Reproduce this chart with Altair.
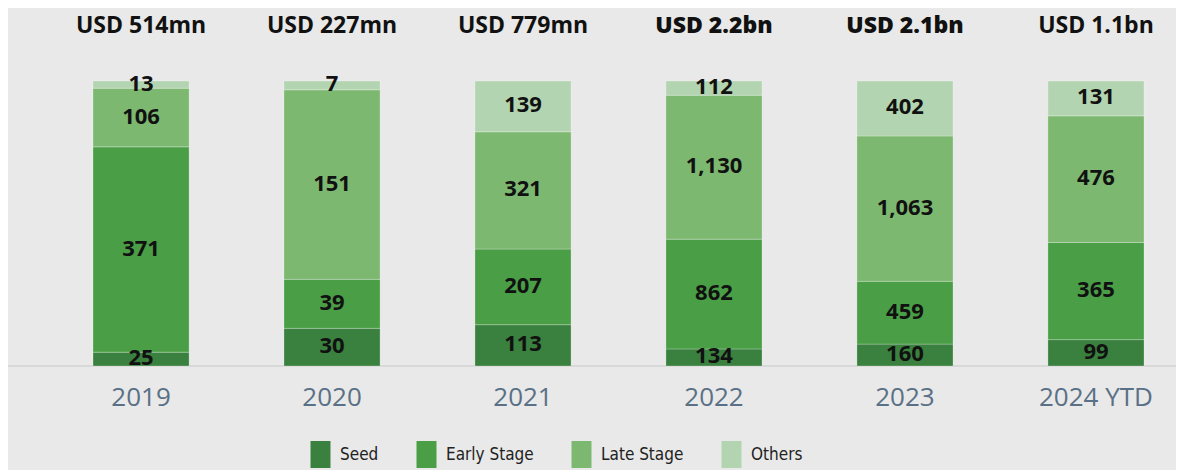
import altair as alt
import pandas as pd

years = ["2019", "2020", "2021", "2022", "2023", "2024 YTD"]
stages = ["Seed", "Early Stage", "Late Stage", "Others"]
seed = [25, 30, 113, 134, 160, 99]
early = [371, 39, 207, 862, 459, 365]
late = [106, 151, 321, 1130, 1063, 476]
others = [13, 7, 139, 112, 402, 131]
totals = ["USD 514mn", "USD 227mn", "USD 779mn", "USD 2.2bn", "USD 2.1bn", "USD 1.1bn"]
bold_years = ["2022", "2023"]

colors = ["#3a803e", "#4a9e46", "#7db870", "#b3d4b0"]

rows = []
for i, y in enumerate(years):
    for j, (s, vals) in enumerate(zip(stages, [seed, early, late, others])):
        rows.append({"year": y, "stage": s, "value": vals[i], "order": j})
df = pd.DataFrame(rows)
tot = pd.DataFrame({"year": years, "label": totals})

FONT = "Open Sans"

x_enc = alt.X("year:N", sort=years, title=None,
              scale=alt.Scale(range=[85, 1136], paddingInner=0.497, paddingOuter=0),
              axis=alt.Axis(domain=False, ticks=False, tickSize=0, labelPadding=18,
                            labelFontSize=26, labelColor="#5a7086", labelFont=FONT,
                            labelAngle=0, grid=False))
y_scale = alt.Scale(domain=[0, 1], range=[358, 73], nice=False, zero=False)

base = alt.Chart(df).transform_stack(
    stack="value", groupby=["year"], as_=["y0", "y1"], offset="normalize",
    sort=[alt.SortField("order", order="ascending")]
).transform_calculate(mid="(datum.y0 + datum.y1) / 2")

bars = base.mark_bar(stroke="#ffffff", strokeOpacity=0.25, strokeWidth=1).encode(
    x=x_enc,
    y=alt.Y("y0:Q", scale=y_scale, axis=None),
    y2="y1:Q",
    color=alt.Color("stage:N", sort=stages,
                    scale=alt.Scale(domain=stages, range=colors),
                    legend=alt.Legend(title=None)),
)

labels = base.mark_text(font=FONT, fontSize=22, fontWeight="bold", color="#111111",
                        baseline="middle", dy=-1).encode(
    x=alt.X("year:N", sort=years),
    y=alt.Y("mid:Q", scale=y_scale, axis=None),
    text=alt.Text("value:Q", format=","),
)

rule = alt.Chart(tot).mark_rule(color="#d8d8d8", strokeWidth=2).encode(
    y=alt.Y("z:Q", scale=y_scale, axis=None)
).transform_calculate(z="0").transform_filter("datum.year == '2019'")

top_a = alt.Chart(tot).transform_filter(
    alt.FieldOneOfPredicate(field="year", oneOf=bold_years)
).mark_text(font=FONT, fontSize=23, fontWeight=800, color="#111111",
            baseline="middle", dy=-55).encode(
    x=alt.X("year:N", sort=years),
    y=alt.Y("t:Q", scale=y_scale, axis=None),
    text="label:N",
).transform_calculate(t="1")

top_b = alt.Chart(tot).transform_filter(
    {"not": alt.FieldOneOfPredicate(field="year", oneOf=bold_years)}
).mark_text(font=FONT, fontSize=23, fontWeight=700, color="#111111",
            baseline="middle", dy=-55).encode(
    x=alt.X("year:N", sort=years),
    y=alt.Y("t:Q", scale=y_scale, axis=None),
    text="label:N",
).transform_calculate(t="1")

chart = alt.layer(rule, bars, labels, top_a, top_b).properties(
    width=1168, height=358,
    autosize=alt.AutoSizeParams(type="none"),
    padding={"left": 0, "top": 0, "right": 0, "bottom": 104},
).configure(
    background="#e8e9e8",
).configure_view(
    stroke=None,
).configure_legend(
    orient="none", legendX=299, legendY=433, direction="horizontal",
    symbolType="M-0.74,-1H0.74V1H-0.74Z", symbolSize=729, symbolStrokeWidth=0,
    labelFontSize=17, labelFont="DejaVu Sans Condensed, Roboto", labelColor="#222222",
    columnPadding=34, labelOffset=6, padding=0, symbolOpacity=1,
)

chart.save("out.html", embed_options={"renderer": "svg", "actions": False})
